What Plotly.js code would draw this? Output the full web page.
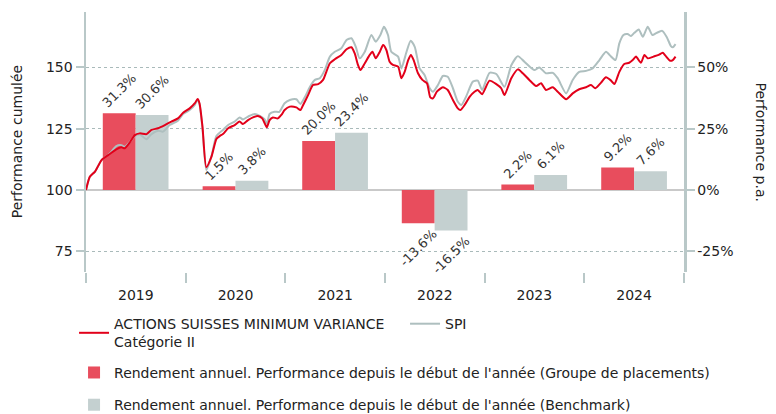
<!DOCTYPE html>
<html>
<head>
<meta charset="utf-8">
<script src="https://cdn.plot.ly/plotly-3.0.1.min.js"></script>
<style>html,body{margin:0;padding:0;background:#fff;}#chart{width:776px;height:414px;}</style>
</head>
<body>
<div id="chart"></div>
<script>
// ---- data ----
var fundName = 'ACTIONS SUISSES MINIMUM VARIANCE<br>Catégorie II';
var benchName = 'SPI';
var barGroupName = "Rendement annuel. Performance depuis le début de l'année (Groupe de placements)";
var barBenchName = "Rendement annuel. Performance depuis le début de l'année (Benchmark)";

var years = ['2019-07-02', '2020-07-02', '2021-07-02', '2022-07-02', '2023-07-02', '2024-07-02'];
var barGroup = [31.3, 1.5, 20.0, -13.6, 2.2, 9.2];
var barBench = [30.6, 3.8, 23.4, -16.5, 6.1, 7.6];

var fundDates = ['2019-01-01','2019-01-15','2019-02-03','2019-02-27','2019-03-29','2019-04-22','2019-05-11','2019-05-23','2019-06-10','2019-06-29','2019-07-17','2019-08-11','2019-08-29','2019-09-22','2019-10-17','2019-11-10','2019-12-04','2019-12-23',
 '2020-01-16','2020-02-04','2020-02-14','2020-02-21','2020-03-03','2020-03-17','2020-04-05','2020-04-23','2020-05-05','2020-05-17','2020-06-05','2020-06-29','2020-07-17','2020-07-29','2020-08-17','2020-09-04','2020-09-22','2020-10-08','2020-10-17','2020-10-25','2020-11-04','2020-11-16','2020-12-04','2020-12-17','2020-12-29',
 '2021-01-17','2021-02-10','2021-02-25','2021-03-07','2021-03-25','2021-04-12','2021-05-01','2021-05-19','2021-05-31','2021-06-13','2021-07-01','2021-07-25','2021-08-13','2021-08-31','2021-09-12','2021-09-24','2021-10-03','2021-10-19','2021-11-06','2021-11-16','2021-11-28','2021-12-13','2021-12-25',
 '2022-01-06','2022-01-18','2022-01-30','2022-02-18','2022-03-02','2022-03-14','2022-03-27','2022-04-06','2022-04-16','2022-05-02','2022-05-18','2022-06-04','2022-06-16','2022-06-26','2022-07-10','2022-08-01','2022-08-19','2022-09-07','2022-09-25','2022-10-04','2022-10-20','2022-11-07','2022-11-25','2022-12-07','2022-12-23',
 '2023-01-19','2023-02-13','2023-03-03','2023-03-15','2023-04-09','2023-05-03','2023-05-21','2023-06-14','2023-07-09','2023-07-27','2023-08-14','2023-09-08','2023-09-26','2023-10-27','2023-11-20','2023-12-14',
 '2024-01-08','2024-01-26','2024-02-11','2024-03-03','2024-03-21','2024-04-09','2024-04-21','2024-05-09','2024-05-27','2024-06-14','2024-06-27','2024-07-09','2024-07-27','2024-08-09','2024-08-21','2024-09-11','2024-09-30','2024-10-15','2024-10-30','2024-11-11','2024-11-21','2024-12-01'];
var fundValues = [100.0,105.4,107.5,112.2,114.7,116.6,117.4,117.0,119.3,122.4,123.1,122.8,124.5,125.2,126.5,127.9,129.2,131.5,
 133.3,135.4,137.1,135.4,125.8,109.3,113.6,120.8,122.0,122.8,125.2,126.5,127.9,126.9,128.5,129.6,130.2,129.2,127.2,125.6,128.5,129.6,129.2,130.6,132.6,
 134.0,133.7,132.6,134.7,138.7,142.8,143.2,144.9,148.2,151.7,153.3,155.1,157.4,158.2,155.7,151.0,148.9,151.7,155.1,156.4,153.7,156.4,159.1,
 157.1,152.3,151.0,150.3,145.6,148.2,153.0,155.1,153.0,147.6,144.9,143.5,137.8,137.4,140.1,141.9,140.8,136.7,133.3,132.6,134.7,138.0,140.1,140.8,139.1,
 144.6,143.2,141.5,138.7,145.6,149.2,147.6,144.9,142.4,143.5,140.8,141.9,140.1,137.0,139.4,141.1,
 141.9,142.8,141.5,143.8,146.0,144.6,143.2,148.2,151.4,151.9,153.0,154.4,151.9,155.1,153.7,154.4,155.1,156.0,154.1,152.7,153.0,154.4];

var benchDates = ['2019-01-01','2019-01-15','2019-02-03','2019-02-27','2019-03-29','2019-04-22','2019-05-11','2019-05-23','2019-06-10','2019-06-29','2019-07-17','2019-08-11','2019-08-29','2019-09-22','2019-10-10','2019-11-04','2019-12-04','2019-12-23',
 '2020-01-16','2020-02-04','2020-02-14','2020-02-21','2020-03-03','2020-03-17','2020-04-05','2020-04-23','2020-05-17','2020-06-05','2020-06-29','2020-07-17','2020-07-29','2020-08-21','2020-09-11','2020-09-29','2020-10-17','2020-10-25','2020-11-04','2020-11-22','2020-12-10','2020-12-29',
 '2021-01-17','2021-02-10','2021-02-25','2021-03-13','2021-03-31','2021-04-19','2021-05-07','2021-05-25','2021-06-13','2021-07-01','2021-07-25','2021-08-13','2021-08-31','2021-09-16','2021-09-30','2021-10-19','2021-11-12','2021-11-28','2021-12-15','2021-12-28',
 '2022-01-12','2022-01-24','2022-02-18','2022-03-02','2022-03-21','2022-04-05','2022-04-20','2022-05-08','2022-05-26','2022-06-14','2022-06-26','2022-07-14','2022-08-01','2022-08-19','2022-09-07','2022-09-25','2022-10-08','2022-10-26','2022-11-19','2022-12-07','2022-12-23',
 '2023-01-19','2023-02-13','2023-03-15','2023-04-09','2023-05-03','2023-05-27','2023-07-02','2023-07-21','2023-08-14','2023-09-08','2023-09-26','2023-10-27','2023-11-20','2023-12-14',
 '2024-01-08','2024-02-01','2024-02-26','2024-03-21','2024-04-09','2024-04-25','2024-05-09','2024-05-24','2024-06-08','2024-06-21','2024-07-03','2024-07-19','2024-08-03','2024-08-21','2024-09-07','2024-09-23','2024-10-13','2024-10-30','2024-11-14','2024-11-21','2024-12-01'];
var benchValues = [100.0,105.4,107.5,112.2,114.9,117.9,118.3,117.6,119.5,122.0,122.6,120.7,122.8,124.2,123.8,126.5,128.3,131.0,
 132.6,134.7,136.8,135.0,125.0,108.2,113.8,122.0,124.5,126.5,127.9,129.6,128.8,130.2,131.0,130.2,128.8,126.9,131.0,131.9,131.9,135.4,
 136.7,137.0,135.1,137.8,141.9,144.9,145.6,148.9,154.4,156.4,157.8,161.2,161.9,158.4,153.7,156.4,163.2,160.5,163.2,166.6,
 163.2,156.4,154.4,149.6,156.4,160.9,158.4,149.6,146.9,141.5,140.1,142.8,146.5,146.2,141.5,136.0,134.7,138.3,144.2,144.6,140.8,
 147.8,147.3,142.1,150.9,154.6,152.3,148.9,150.0,147.6,147.8,145.6,139.4,144.9,148.2,
 148.6,149.6,153.0,156.4,154.4,153.0,159.8,163.2,163.6,162.8,164.1,165.5,162.5,166.6,163.2,164.1,164.9,162.3,158.7,158.2,159.5];

var leftTicks = [75, 100, 125, 150];
var rightTicks = [-25, 0, 25, 50];
var rightTickLabels = ['-25%', '0%', '25%', '50%'];

// ---- styles ----
var FONT = 'DejaVu Sans, Verdana, sans-serif';
var TXT = '#222222';
var AXC = '#b9c8c8';
var RED = '#e2001a';
var GREY = '#aebfbf';
var BAR_RED = '#e84d5d';
var BAR_GREY = '#c4d0d0';

var traces = [
  {type: 'bar', x: years, y: barGroup, name: barGroupName, yaxis: 'y', xaxis: 'x',
   marker: {color: BAR_RED}, legend: 'legend2',
   texttemplate: '%{y:.1f}%', textposition: 'outside', textangle: -45, cliponaxis: false, constraintext: 'none',
   textfont: {family: FONT, size: 13, color: '#333333'}, hoverinfo: 'skip'},
  {type: 'bar', x: years, y: barBench, name: barBenchName, yaxis: 'y', xaxis: 'x',
   marker: {color: BAR_GREY}, legend: 'legend3',
   texttemplate: '%{y:.1f}%', textposition: 'outside', textangle: -45, cliponaxis: false, constraintext: 'none',
   textfont: {family: FONT, size: 13, color: '#333333'}, hoverinfo: 'skip'},
  {type: 'scatter', mode: 'lines', x: benchDates, y: benchValues, name: benchName, yaxis: 'y2', xaxis: 'x',
   line: {color: GREY, width: 2, shape: 'spline', smoothing: 0.6}, legend: 'legend', legendrank: 2},
  {type: 'scatter', mode: 'lines', x: fundDates, y: fundValues, name: fundName, yaxis: 'y2', xaxis: 'x',
   line: {color: RED, width: 2, shape: 'spline', smoothing: 0.6}, legend: 'legend', legendrank: 1}
];

var layout = {
  width: 776, height: 414,
  margin: {l: 86, r: 92, t: 12, b: 142, autoexpand: false},
  paper_bgcolor: '#ffffff', plot_bgcolor: '#ffffff',
  font: {family: FONT, size: 13, color: TXT},
  barmode: 'group', bargap: 0.34, bargroupgap: 0,
  showlegend: true,
  xaxis: {type: 'date', range: ['2019-01-01', '2025-01-01'], tick0: '2019-01-01', dtick: 'M12',
    ticklabelmode: 'period', tickformat: '%Y', ticks: 'outside', ticklen: 10, tickwidth: 2, tickcolor: AXC,
    showline: false, showgrid: false, zeroline: false, tickfont: {family: FONT, size: 14, color: TXT}},
  yaxis: {side: 'right', range: [-33.44, 72.6], tickvals: rightTicks, ticktext: rightTickLabels,
    ticks: 'outside', ticklen: 8, tickwidth: 2, tickcolor: AXC, showline: true, linecolor: AXC, linewidth: 2.5,
    showgrid: true, gridcolor: '#a9baba', gridwidth: 1.5, griddash: 'dot',
    zeroline: true, zerolinecolor: '#c9c9c9', zerolinewidth: 2,
    tickfont: {family: FONT, size: 14, color: TXT}},
  yaxis2: {side: 'left', overlaying: 'y', range: [66.56, 172.6], tickvals: leftTicks,
    ticks: 'outside', ticklen: 8, tickwidth: 2, tickcolor: AXC, showline: true, linecolor: AXC, linewidth: 2.5,
    showgrid: false, zeroline: false, tickfont: {family: FONT, size: 14, color: TXT}},
  legend: {orientation: 'h', x: -0.02, xanchor: 'left', y: -0.235, yanchor: 'middle', entrywidth: 286,
    font: {family: FONT, size: 14, color: TXT}, bgcolor: 'rgba(0,0,0,0)', traceorder: 'normal'},
  legend2: {orientation: 'h', x: -0.02, xanchor: 'left', y: -0.388, yanchor: 'middle',
    font: {family: FONT, size: 14, color: TXT}, bgcolor: 'rgba(0,0,0,0)'},
  legend3: {orientation: 'h', x: -0.02, xanchor: 'left', y: -0.512, yanchor: 'middle',
    font: {family: FONT, size: 14, color: TXT}, bgcolor: 'rgba(0,0,0,0)'},
  annotations: [
    {text: 'Performance cumulée', xref: 'paper', yref: 'paper', x: -0.115, y: 0.5, xanchor: 'center', yanchor: 'middle',
     textangle: -90, showarrow: false, font: {family: FONT, size: 14, color: TXT}},
    {text: 'Performance p.a.', xref: 'paper', yref: 'paper', x: 1.128, y: 0.5, xanchor: 'center', yanchor: 'middle',
     textangle: 90, showarrow: false, font: {family: FONT, size: 14, color: TXT}}
  ]
};

Plotly.newPlot('chart', traces, layout, {staticPlot: true, displayModeBar: false});
</script>
</body>
</html>
